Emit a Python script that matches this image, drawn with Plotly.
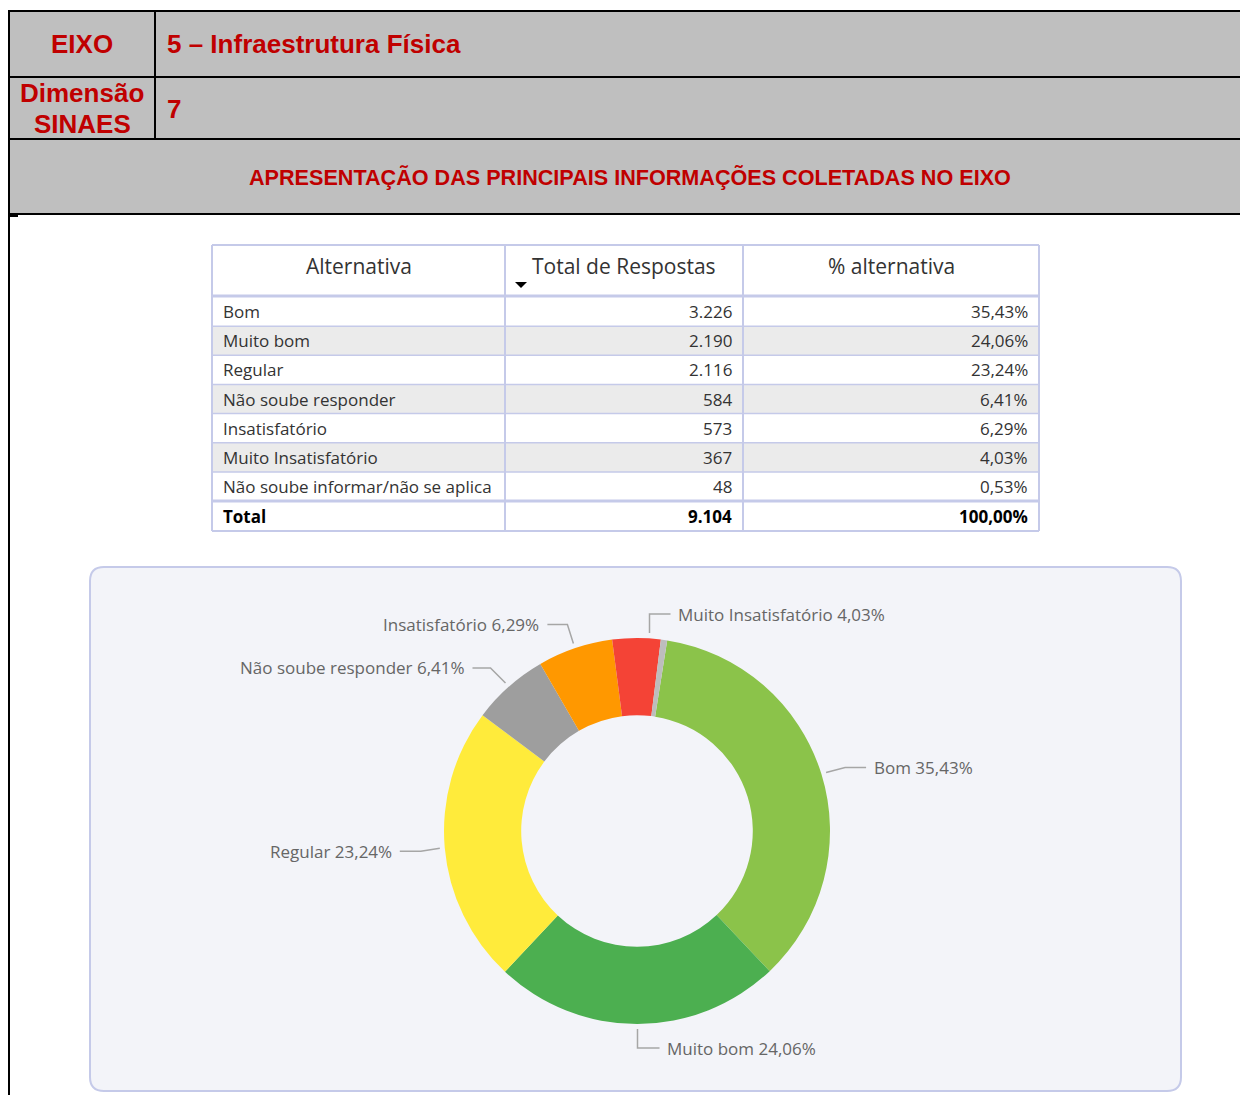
import math
import plotly.graph_objects as go

# ---------------- data ----------------
eixo_label = "EIXO"
eixo_value = "5 – Infraestrutura Física"
dimensao_label = ["Dimensão", "SINAES"]
dimensao_value = "7"
section_title = "APRESENTAÇÃO DAS PRINCIPAIS INFORMAÇÕES COLETADAS NO EIXO"

table_columns = ["Alternativa", "Total de Respostas", "% alternativa"]
alternativas = ["Bom", "Muito bom", "Regular", "Não soube responder",
                "Insatisfatório", "Muito Insatisfatório",
                "Não soube informar/não se aplica"]
respostas = [3226, 2190, 2116, 584, 573, 367, 48]
percentuais = [35.43, 24.06, 23.24, 6.41, 6.29, 4.03, 0.53]
total_label = "Total"
total_respostas = 9104
total_percentual = 100.00

slice_colors = ["#8BC34A", "#4CAF50", "#FFEB3B", "#9E9E9E",
                "#FF9800", "#F44336", "#BDBDBD"]

# ---------------- layout / style ----------------
W, H = 1240, 1095
RED = "#C00000"
GRAY = "#BFBFBF"
LAV = "#C5CAE9"
TXT = "#333333"
LBL = "#666666"
HDR_FONT = "Liberation Sans, Arial, sans-serif"
UI_FONT = "Open Sans, Noto Sans, sans-serif"

CX, CY, R = 637, 831, 193          # donut centre / radius (px)
ROTATION = 9

# label leader layout: (start nudge x, elbow dx, elbow dy, horizontal length)
label_layout = {
    "Bom": (0, 19, -5, 21),
    "Muito bom": (0, 0, 19, 22),
    "Regular": (0, -19, 3, -21),
    "Não soube responder": (0, -15, -15, -18),
    "Insatisfatório": (0, -6, -19, -20),
    "Muito Insatisfatório": (13, 0, -19, 21),
}


def br_int(v):
    return f"{v:,}".replace(",", ".")


def br_pct(v):
    return f"{v:.2f}".replace(".", ",") + "%"


fig = go.Figure()

# invisible trace to activate pixel-unit axes
fig.add_trace(go.Scatter(x=[0, W], y=[0, H], mode="markers",
                         marker=dict(opacity=0), hoverinfo="skip",
                         showlegend=False))

shapes = []
annotations = []


def line(x0, y0, x1, y1, color, width, layer="above"):
    shapes.append(dict(type="line", xref="x", yref="y", x0=x0, y0=y0,
                       x1=x1, y1=y1, line=dict(color=color, width=width),
                       layer=layer))


def rect(x0, y0, x1, y1, fill, layer="below", lc=None, lw=0):
    shapes.append(dict(type="rect", xref="x", yref="y", x0=x0, y0=y0,
                       x1=x1, y1=y1, fillcolor=fill,
                       line=dict(color=lc or fill, width=lw), layer=layer))


def text(x, y, s, size, color, family, xanchor="center", bold=False):
    if bold:
        s = f"<b>{s}</b>"
    annotations.append(dict(x=x, y=y, xref="x", yref="y", text=s,
                            showarrow=False, xanchor=xanchor,
                            yanchor="middle",
                            font=dict(size=size, color=color, family=family)))


# ---------------- header block ----------------
rect(8, 11, W + 5, 214, GRAY)
for yy in (11, 77, 139, 214):
    line(8, yy, W + 5, yy, "#000000", 2)
line(155, 11, 155, 139, "#000000", 2)
line(9, 11, 9, H + 5, "#000000", 2)
line(9, 216, 18, 216, "#000000", 2)

text(82, 44, eixo_label, 26, RED, HDR_FONT, bold=True)
text(165, 44, eixo_value, 26, RED, HDR_FONT, xanchor="left", bold=True)
text(82, 93, dimensao_label[0], 26, RED, HDR_FONT, bold=True)
text(82, 124, dimensao_label[1], 26, RED, HDR_FONT, bold=True)
text(165, 109, dimensao_value, 26, RED, HDR_FONT, xanchor="left", bold=True)
text(630, 177, section_title, 21.6, RED, HDR_FONT, bold=True)

# ---------------- table ----------------
TX0, TX1 = 212, 1039
col_edges = [212, 505, 743, 1039]
HEAD_TOP, HEAD_BOT = 245, 296
ROW0, ROW_H = 297, 29.15
n = len(alternativas)
row_tops = [ROW0 + i * ROW_H for i in range(n + 1)]
TABLE_BOT = row_tops[-1] + 30

rect(TX0, HEAD_TOP, TX1, TABLE_BOT, "#FFFFFF")
for i in range(n):
    if i % 2 == 1:
        rect(TX0, row_tops[i], TX1, row_tops[i + 1], "#EBEBEB")

line(TX0, HEAD_TOP, TX1, HEAD_TOP, LAV, 2)
line(TX0, HEAD_BOT, TX1, HEAD_BOT, LAV, 3)
for i in range(1, n):
    line(TX0, row_tops[i], TX1, row_tops[i], LAV, 1.5)
line(TX0, row_tops[n], TX1, row_tops[n], LAV, 3)
line(TX0, TABLE_BOT, TX1, TABLE_BOT, LAV, 2)
for xx in col_edges:
    line(xx, HEAD_TOP, xx, TABLE_BOT, LAV, 2)

# header texts
for j, c in enumerate(table_columns):
    text((col_edges[j] + col_edges[j + 1]) / 2, 266, c, 21, TXT, UI_FONT)
# sort arrow
shapes.append(dict(type="path", xref="x", yref="y",
                   path="M 515,282 L 527,282 L 521,288 Z",
                   fillcolor="#000000", line=dict(width=0), layer="above"))

FS = 17
for i in range(n):
    yc = (row_tops[i] + row_tops[i + 1]) / 2
    text(col_edges[0] + 9, yc, alternativas[i], FS, TXT, UI_FONT, "left")
    text(col_edges[2] - 9, yc, br_int(respostas[i]), FS, TXT, UI_FONT, "right")
    text(col_edges[3] - 9, yc, br_pct(percentuais[i]), FS, TXT, UI_FONT, "right")
yc = (row_tops[n] + TABLE_BOT) / 2
text(col_edges[0] + 9, yc, total_label, FS, "#000000", UI_FONT, "left", True)
text(col_edges[2] - 9, yc, br_int(total_respostas), FS, "#000000", UI_FONT, "right", True)
text(col_edges[3] - 9, yc, br_pct(total_percentual), FS, "#000000", UI_FONT, "right", True)

# ---------------- chart panel ----------------
PX0, PY0, PX1, PY1, RR = 90, 567, 1181, 1091, 14
panel = (f"M {PX0 + RR},{PY0} L {PX1 - RR},{PY0} Q {PX1},{PY0} {PX1},{PY0 + RR} "
         f"L {PX1},{PY1 - RR} Q {PX1},{PY1} {PX1 - RR},{PY1} "
         f"L {PX0 + RR},{PY1} Q {PX0},{PY1} {PX0},{PY1 - RR} "
         f"L {PX0},{PY0 + RR} Q {PX0},{PY0} {PX0 + RR},{PY0} Z")
shapes.append(dict(type="path", xref="x", yref="y", path=panel,
                   fillcolor="#F3F4F9", line=dict(color=LAV, width=2),
                   layer="below"))

fig.add_trace(go.Pie(
    values=respostas, labels=alternativas, hole=0.6, sort=False,
    direction="clockwise", rotation=ROTATION,
    marker=dict(colors=slice_colors, line=dict(width=0)),
    textinfo="none", hoverinfo="label+percent", showlegend=False,
    domain=dict(x=[(CX - R) / W, (CX + R) / W],
                y=[1 - (CY + R) / H, 1 - (CY - R) / H]),
))

# leader lines + labels computed from the data
total = sum(respostas)
cum = 0
for name, v, p in zip(alternativas, respostas, percentuais):
    mid = math.radians(ROTATION + (cum + v / 2) / total * 360)
    cum += v
    if name not in label_layout:
        continue
    nudge, dx, dy, hl = label_layout[name]
    sx = CX + (R + 5) * math.sin(mid) + nudge
    sy = CY - (R + 5) * math.cos(mid)
    ex, ey = sx + dx, sy + dy
    hx = ex + hl
    shapes.append(dict(type="path", xref="x", yref="y",
                       path=f"M {sx:.1f},{sy:.1f} L {ex:.1f},{ey:.1f} L {hx:.1f},{ey:.1f}",
                       line=dict(color="#A6A6A6", width=1.5), layer="above"))
    if hl > 0:
        text(hx + 6, ey, f"{name} {br_pct(p)}", 17, LBL, UI_FONT, "left")
    else:
        text(hx - 6, ey, f"{name} {br_pct(p)}", 17, LBL, UI_FONT, "right")

fig.update_layout(
    width=W, height=H, margin=dict(l=0, r=0, t=0, b=0),
    paper_bgcolor="#FFFFFF", plot_bgcolor="rgba(0,0,0,0)",
    xaxis=dict(range=[0, W], visible=False, fixedrange=True),
    yaxis=dict(range=[H, 0], visible=False, fixedrange=True),
    shapes=shapes, annotations=annotations, showlegend=False,
)

fig.write_html("out.html", config={"displayModeBar": False},
               post_script="document.body.style.margin='0';"
                           "document.body.style.overflow='hidden';")
